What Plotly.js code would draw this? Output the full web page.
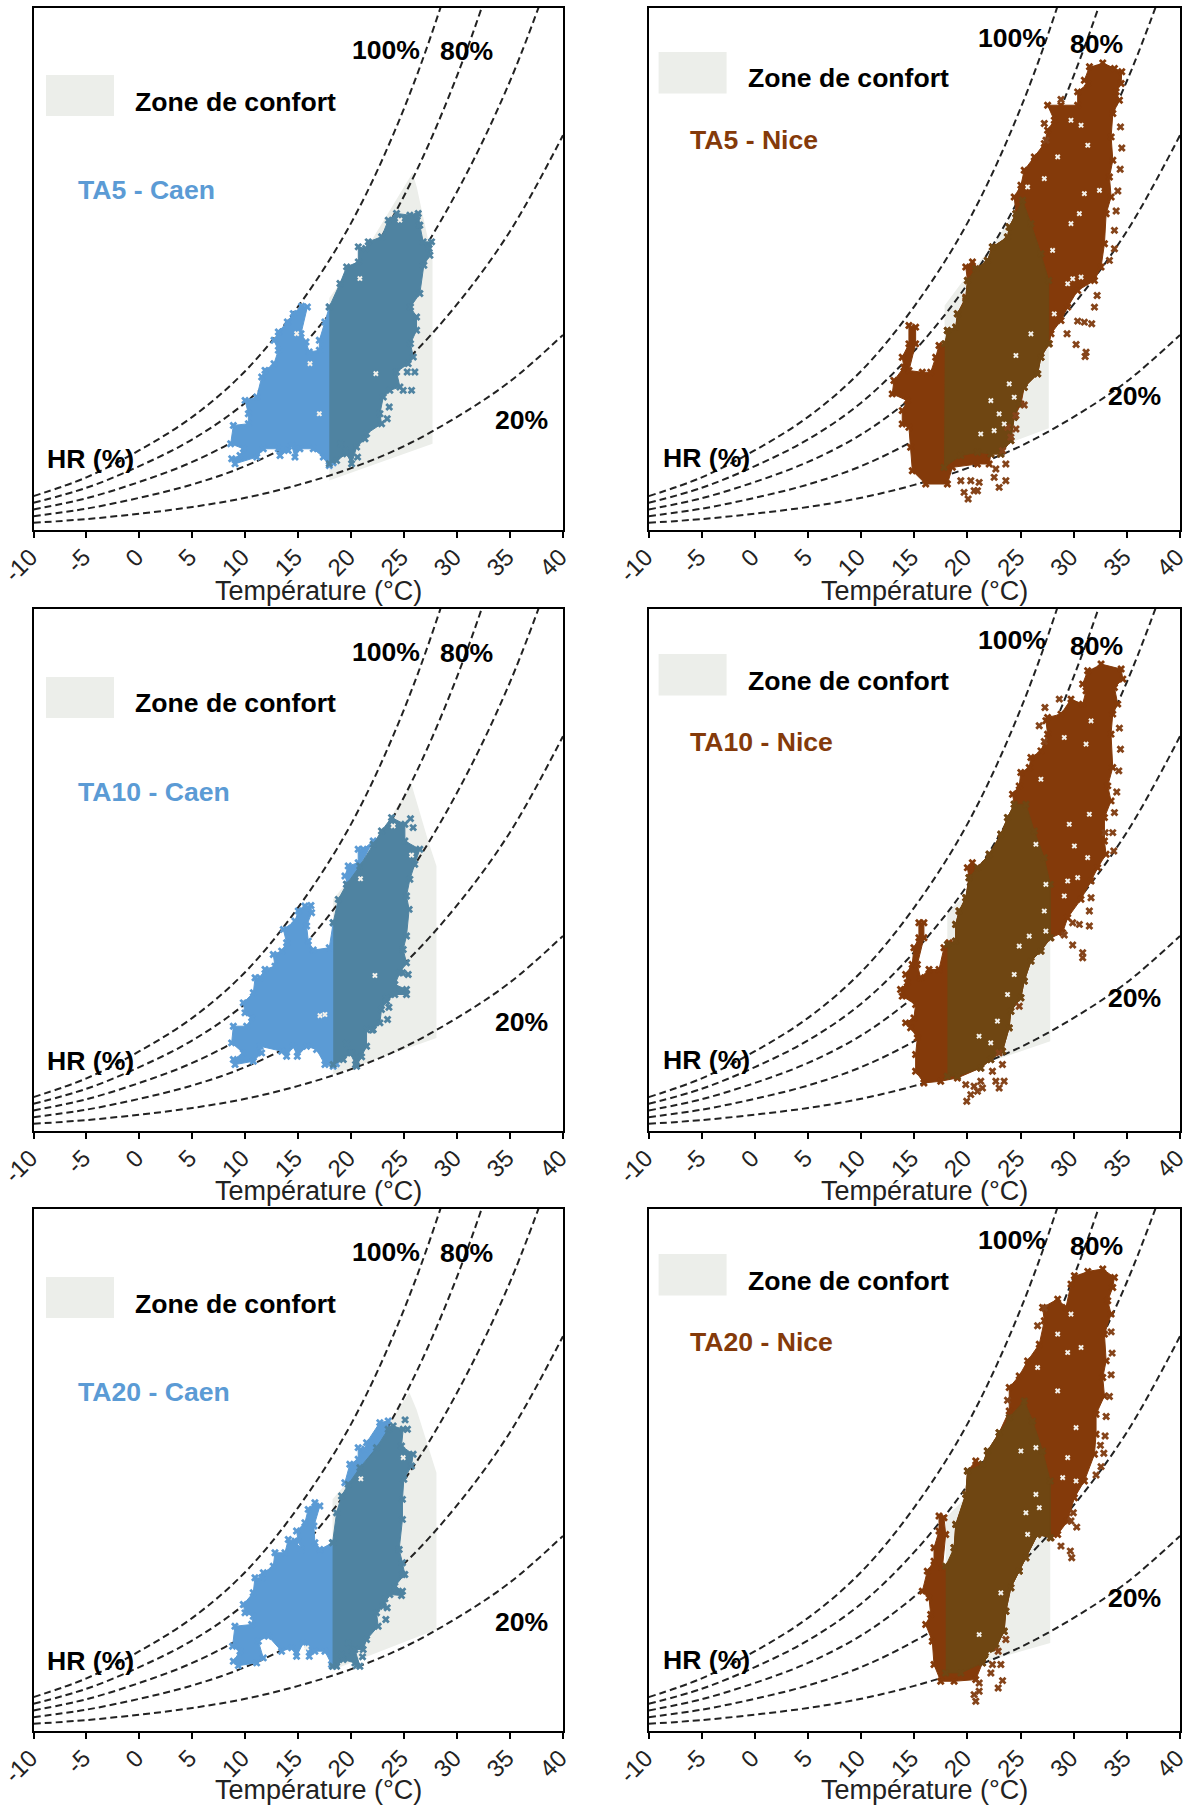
<!DOCTYPE html>
<html><head><meta charset="utf-8">
<script src="https://cdn.plot.ly/plotly-3.0.1.min.js"></script>
<style>html,body{margin:0;padding:0;background:#fff}#c{width:1188px;height:1809px}</style>
</head><body><div id="c"></div>
<script>
// Temperature ticks and humidity-ratio curves (g/kg)
const tempTicks = [-10,-5,0,5,10,15,20,25,30,35,40];
const hr100 = [1.6,2.5,3.8,5.4,7.6,10.7,14.7,20.2,27.5,36.6,48.8];
const hr80  = [1.28,2.0,3.04,4.32,6.08,8.56,11.76,16.0,21.76,29.3,39.0];
const hr60  = [0.96,1.5,2.28,3.24,4.56,6.42,8.82,12.0,16.2,21.5,28.3];
const hr40  = [0.64,1.0,1.52,2.16,3.04,4.28,5.88,8.0,10.8,14.3,18.9];
const hr20  = [0.32,0.5,0.76,1.08,1.52,2.14,2.94,4.0,5.4,7.1,9.33];

// Comfort zones [T, w]
const zoneCaen5 = [[17.93,2.35],[27.68,4.11],[27.68,12.9],[26.2,16.4],[25.8,17.1],[21.85,13.8],[17.93,11.1]];
const zoneNice5 = [[17.8,3.0],[27.65,4.85],[27.65,11.95],[25.18,15.78],[22.2,13.5],[19.37,11.78],[17.85,10.74]];
const zoneCaen10 = [[18.3,2.68],[28.05,4.44],[28.05,12.68],[27.27,13.88],[26.48,15.24],[25.69,16.6],[20.82,12.68],[18.3,11.08]];
const zoneNice10 = [[18.1,2.6],[27.79,4.28],[27.79,11.8],[25.5,15.64],[19.52,11.16],[18.1,10.44]];
const zoneCaen20 = [[18.24,2.9],[28.05,4.84],[28.05,12.36],[26.16,15.4],[25.49,16.2],[20.82,12.6],[18.24,11.08]];
const zoneNice20 = [[17.95,2.76],[27.79,4.2],[27.79,11.96],[25.34,15.8],[19.37,10.92],[17.95,10.2]];

// TA5 - Caen
const caen5Light = [[18.3,10.67],[17.93,10.67],[17.52,9.95],[16.99,9.07],[16.99,8.59],[16.04,8.51],[15.73,8.99],[15.26,9.39],[15.86,10.67],[15.32,10.70],[14.53,10.35],[13.97,9.95],[13.12,9.47],[12.71,9.07],[13.12,8.59],[12.71,7.95],[11.86,7.63],[11.55,7.31],[11.08,6.35],[9.98,6.19],[10.29,5.55],[10.29,5.07],[8.87,4.99],[8.62,4.11],[9.82,3.87],[9.50,3.55],[8.72,3.39],[9.03,3.15],[11.08,3.47],[11.70,3.87],[13.12,3.87],[13.28,3.55],[14.06,3.79],[14.38,4.03],[14.69,3.47],[15.16,3.87],[16.42,3.87],[17.37,3.47],[17.93,3.07],[18.3,3.2]];
const caen5Dark = [[17.93,10.67],[18.94,11.79],[19.57,12.59],[20.67,12.83],[20.67,13.55],[21.36,13.47],[21.61,13.79],[22.87,14.03],[23.50,14.83],[24.28,15.15],[25.54,15.07],[26.33,15.15],[26.48,14.59],[26.80,13.79],[27.59,13.79],[27.43,13.15],[26.86,12.67],[26.48,11.31],[25.60,10.67],[26.17,10.19],[26.17,9.55],[25.60,8.91],[25.86,8.27],[25.38,7.95],[24.28,7.55],[24.60,6.83],[23.65,6.67],[23.03,6.35],[22.71,5.55],[22.87,5.07],[21.45,4.59],[21.30,4.35],[20.51,3.95],[20.04,3.15],[19.57,3.63],[18.62,3.31],[17.93,3.15]];
const caen5Out = [[26.23,15.02],[26.42,14.59],[27.36,13.47],[26.01,7.55],[25.29,7.55],[25.70,6.67],[24.91,6.67],[23.59,5.87],[23.40,5.31],[20.60,3.47],[19.47,3.79],[19.0,4.11]];
const caen5Holes = [[20.82,12.03],[14.85,9.39],[16.99,5.55],[22.33,7.47],[24.60,14.83],[16.11,7.95]];

// TA5 - Nice
const nice5Light = [[32.73,22.37],[33.83,22.10],[34.52,21.94],[34.46,21.38],[33.99,20.98],[34.30,20.58],[33.68,19.94],[33.52,18.82],[33.68,17.70],[33.36,16.90],[33.52,15.94],[33.05,15.14],[32.89,13.70],[32.57,12.58],[31.95,11.94],[30.37,11.46],[29.43,10.66],[28.80,10.02],[27.86,9.38],[27.70,8.90],[26.91,8.26],[26.60,7.46],[25.34,6.82],[25.03,6.02],[24.40,5.38],[24.08,4.26],[23.14,3.62],[22.20,3.62],[22.04,3.14],[20.94,3.14],[18.58,2.98],[18.11,2.18],[16.07,2.18],[14.81,2.82],[14.65,3.94],[14.49,4.90],[13.86,5.06],[13.86,5.70],[14.34,6.18],[12.92,6.50],[13.08,7.14],[14.02,7.78],[13.86,8.26],[14.49,8.90],[14.49,9.78],[15.12,9.70],[15.12,8.90],[14.49,7.62],[15.75,7.54],[16.54,7.54],[17.01,8.26],[17.32,8.82],[17.95,8.90],[18.11,9.54],[18.90,9.70],[19.05,10.34],[19.84,11.14],[20.0,11.94],[19.84,12.58],[20.47,12.82],[20.94,12.50],[21.88,12.90],[22.35,13.54],[23.77,14.02],[23.93,14.50],[24.56,15.14],[24.40,15.94],[25.03,16.50],[25.34,17.22],[26.29,17.86],[27.23,18.50],[27.54,19.14],[28.17,19.62],[27.54,20.34],[28.80,20.34],[30.37,20.34],[30.37,20.98],[31.32,21.38],[31.0,21.54],[31.48,22.18]];
const nice5Dark = [[17.86,8.90],[18.11,9.54],[18.90,9.70],[19.05,10.34],[19.84,11.06],[20.0,11.94],[20.78,12.50],[21.88,12.90],[22.35,13.54],[23.77,14.02],[23.93,14.50],[24.56,15.14],[25.18,15.78],[25.97,14.66],[26.91,13.22],[27.64,11.94],[27.64,8.90],[26.91,8.26],[26.60,7.46],[25.34,6.82],[24.87,6.02],[24.40,5.38],[24.08,4.26],[23.14,3.62],[22.20,3.62],[20.94,3.70],[19.37,3.54],[17.79,2.98]];
const nice5Out = [[28.80,20.61],[27.23,19.46],[27.39,18.66],[34.40,19.30],[34.52,18.29],[34.37,17.27],[34.15,16.23],[33.99,15.27],[33.83,14.34],[33.83,13.46],[33.36,12.90],[32.20,11.22],[31.95,10.66],[31.69,9.86],[31.0,9.94],[30.37,9.99],[29.37,9.38],[30.22,8.87],[31.16,8.50],[31.07,8.29],[25.34,5.97],[24.56,5.46],[24.56,4.82],[23.77,4.90],[24.08,4.42],[23.30,3.78],[23.61,3.14],[22.67,2.90],[22.51,2.50],[22.98,2.02],[23.61,2.34],[21.10,2.26],[20.63,1.86],[20.06,1.46],[19.68,1.78],[20.31,2.34],[19.37,2.34],[20.94,1.86]];
const nice5Holes = [[27.23,16.82],[30.69,19.38],[31.32,18.42],[31.0,16.10],[32.42,16.26],[30.53,15.14],[29.74,14.66],[28.01,13.38],[29.90,12.02],[30.69,12.10],[28.17,10.34],[29.43,11.78],[25.97,9.38],[24.56,8.34],[23.93,6.98],[22.20,6.18],[21.25,4.58],[22.51,4.74],[23.46,5.06],[24.40,6.34],[22.98,5.54],[28.49,17.86],[29.74,19.62],[25.66,16.42]];

// TA10 - Caen
const caen10Light = [[18.6,9.96],[18.30,9.96],[17.93,8.76],[16.42,8.65],[15.95,9.08],[15.79,9.80],[16.26,10.44],[16.20,10.79],[15.63,10.76],[15.0,10.52],[14.69,10.04],[13.59,9.64],[13.90,9.0],[13.43,8.60],[12.64,8.44],[12.80,7.88],[11.86,7.72],[11.39,7.32],[10.92,7.32],[10.76,6.60],[9.81,6.12],[9.97,5.64],[10.60,5.40],[10.13,5.0],[8.87,5.0],[8.71,4.20],[9.81,3.72],[8.87,3.40],[9.03,3.16],[10.76,3.32],[11.54,3.72],[11.39,4.04],[13.43,3.80],[13.90,3.56],[14.53,4.04],[14.91,3.56],[15.79,4.04],[16.73,3.88],[17.52,3.16],[18.30,3.08],[18.6,3.2],[null,null],[19.41,12.20],[19.72,12.68],[20.66,12.84],[20.66,13.48],[21.14,13.48],[22.08,13.88],[20.82,12.68],[19.56,11.80]];
const caen10Dark = [[18.30,9.96],[18.78,11.08],[19.56,11.80],[20.82,12.68],[22.08,13.72],[22.86,14.36],[23.81,15.0],[25.07,14.68],[25.07,13.88],[26.48,13.48],[26.0,12.76],[25.54,12.04],[25.22,11.24],[25.47,10.60],[25.22,9.32],[24.91,8.68],[25.22,8.04],[24.59,7.56],[24.12,7.0],[25.22,6.76],[25.22,6.52],[24.12,6.52],[23.34,6.20],[22.86,5.80],[22.71,5.16],[22.08,4.84],[21.45,4.84],[21.45,4.04],[20.51,3.08],[19.88,3.72],[19.25,3.40],[18.30,3.16]];
const caen10Out = [[25.60,14.95],[25.85,14.52],[25.38,7.48],[24.85,7.56],[23.34,6.36],[23.56,5.91],[23.43,5.32],[19.56,4.17],[20.98,3.53],[20.03,3.72],[20.41,3.16],[21.98,4.81]];
const caen10Holes = [[20.88,12.07],[22.24,7.43],[17.05,5.51],[17.52,5.56],[23.97,14.6],[25.70,13.2]];

// TA10 - Nice
const nice10Light = [[32.57,22.36],[34.46,22.12],[34.62,21.64],[33.83,21.24],[34.14,20.44],[33.67,19.96],[33.51,19.0],[33.67,17.40],[33.20,16.52],[33.51,15.80],[32.89,15.0],[32.89,13.88],[33.04,13.24],[32.26,12.60],[31.63,11.96],[30.68,11.08],[29.43,10.20],[28.95,9.48],[27.85,9.24],[26.91,8.60],[25.97,8.12],[25.34,7.16],[25.02,6.36],[24.08,5.72],[23.92,4.92],[23.29,3.80],[22.19,3.40],[21.25,3.0],[19.05,2.52],[17.48,2.36],[15.90,2.28],[15.12,2.84],[15.12,3.64],[15.28,4.44],[14.65,4.92],[14.18,5.16],[14.96,5.40],[15.12,6.04],[13.86,6.44],[13.70,6.76],[14.33,7.08],[14.18,7.48],[14.80,7.96],[14.96,8.76],[15.43,9.24],[15.43,9.96],[15.90,9.96],[15.90,9.24],[15.28,7.96],[15.59,7.32],[16.38,7.72],[17.32,7.72],[17.79,8.76],[18.26,9.0],[18.89,9.08],[18.89,9.88],[19.21,10.52],[19.84,11.16],[20.15,12.12],[19.99,12.60],[20.46,12.84],[20.94,12.60],[22.04,13.24],[23.14,14.20],[23.77,15.0],[24.40,15.64],[24.24,16.12],[24.87,16.52],[25.02,17.16],[25.81,17.40],[25.97,17.88],[26.91,18.20],[27.54,19.0],[27.38,19.64],[27.54,19.80],[28.80,19.96],[29.74,20.68],[30.84,20.44],[31.16,21.08],[30.84,21.40],[31.31,22.04]];
const nice10Dark = [[18.11,8.92],[18.89,9.08],[18.89,9.88],[19.21,10.52],[19.84,11.16],[20.15,12.12],[20.94,12.60],[22.04,13.24],[23.14,14.20],[23.77,15.0],[24.40,15.64],[25.50,15.64],[26.28,14.36],[27.22,13.08],[27.79,11.80],[27.79,9.24],[26.91,8.60],[25.97,8.12],[25.34,7.16],[25.02,6.36],[24.08,5.72],[23.92,4.92],[23.29,3.80],[22.19,3.40],[21.25,3.0],[19.05,2.60],[18.11,2.60]];
const nice10Out = [[26.75,19.40],[27.29,20.28],[28.64,20.68],[27.23,18.65],[34.30,19.29],[34.40,18.28],[34.24,17.24],[34.05,16.23],[33.83,15.24],[33.67,14.28],[32.95,14.28],[33.77,13.40],[31.63,11.16],[31.47,10.52],[31.47,9.80],[30.53,9.88],[29.90,9.96],[29.11,9.37],[29.90,8.89],[30.84,8.52],[30.84,8.28],[24.87,5.96],[22.98,3.72],[23.29,3.16],[22.35,2.84],[22.67,2.36],[22.98,2.04],[23.45,2.36],[21.25,2.36],[20.94,1.88],[20.31,1.72],[19.93,1.40],[20.62,2.12],[19.84,2.20],[21.41,2.04]];
const nice10Holes = [[26.91,16.84],[29.11,18.84],[31.16,18.52],[31.63,19.64],[31.47,15.16],[29.58,14.68],[30.06,13.64],[31.31,13.08],[29.43,11.96],[30.37,12.12],[29.11,11.24],[27.38,11.80],[26.44,13.72],[27.23,10.52],[27.38,9.56],[25.81,9.32],[23.77,6.52],[22.82,5.24],[22.19,4.20],[21.09,4.52],[24.87,8.84],[24.40,7.48]];

// TA20 - Caen
const caen20Light = [[18.55,9.0],[18.24,9.0],[17.04,8.68],[16.57,9.0],[16.48,9.80],[17.04,10.76],[16.57,10.92],[15.94,10.60],[15.63,9.96],[14.84,9.56],[15.0,9.08],[15.31,8.68],[14.69,9.08],[14.06,9.16],[13.74,8.52],[12.80,8.52],[12.64,7.88],[11.70,7.56],[11.54,7.32],[10.91,7.32],[10.75,6.60],[9.81,6.04],[9.97,5.64],[10.75,5.48],[10.60,5.08],[9.02,5.0],[8.80,4.04],[9.50,3.80],[8.87,3.32],[9.34,3.11],[11.07,3.24],[11.70,3.48],[11.23,4.28],[12.17,4.52],[13.43,3.80],[14.37,3.96],[14.84,3.56],[15.47,4.20],[16.04,3.56],[16.57,3.80],[17.52,3.80],[18.14,3.16],[18.24,3.08],[18.55,3.2],[null,null],[19.40,11.88],[19.87,12.76],[20.66,13.0],[20.66,13.56],[21.29,13.48],[21.45,13.80],[22.70,14.76],[23.49,14.84],[23.49,14.44],[22.39,13.56],[20.82,12.60],[19.72,11.80]];
const caen20Dark = [[18.24,9.0],[18.62,10.44],[19.09,11.24],[19.72,11.80],[20.82,12.60],[22.39,13.56],[23.49,14.44],[23.96,14.60],[24.91,14.44],[24.75,13.64],[25.85,13.24],[25.69,12.68],[24.97,12.04],[24.84,11.08],[24.84,10.12],[24.53,8.68],[24.84,8.04],[25.06,7.48],[24.12,6.92],[24.84,6.68],[24.75,6.47],[23.65,6.52],[23.02,5.96],[22.39,5.64],[22.55,5.0],[21.45,4.36],[21.13,3.88],[20.35,3.88],[20.82,3.08],[20.35,3.24],[19.24,3.40],[18.62,3.08],[18.24,3.08]];
const caen20Out = [[25.09,14.89],[25.31,14.44],[24.84,7.48],[23.18,6.31],[23.40,5.88],[23.27,5.32],[19.72,4.20],[20.13,3.80],[21.07,3.53],[20.50,3.11],[19.09,3.64]];
const caen20Holes = [[20.91,12.07],[24.91,13.08],[15.79,3.96]];

// TA20 - Nice
const nice20Light = [[31.32,22.01],[32.73,22.12],[33.83,21.72],[33.67,21.24],[33.20,20.60],[33.52,19.96],[32.89,19.0],[33.05,17.72],[32.73,16.92],[32.89,16.04],[32.10,15.16],[32.10,14.20],[31.95,13.24],[31.0,11.96],[30.06,11.16],[29.43,10.04],[28.49,9.40],[27.86,9.24],[26.60,9.40],[25.50,8.28],[24.87,7.64],[24.08,6.84],[23.61,5.72],[23.45,4.76],[22.67,3.96],[21.41,3.24],[20.78,2.44],[18.74,2.36],[17.48,2.36],[16.85,3.16],[16.69,4.28],[16.07,5.08],[16.54,5.56],[16.38,6.36],[15.75,6.68],[16.22,7.64],[16.85,8.12],[16.85,8.76],[17.32,9.56],[17.32,10.28],[17.79,10.20],[17.95,9.40],[17.64,7.80],[18.27,7.88],[18.74,8.76],[18.90,9.88],[19.84,11.32],[20.0,12.44],[20.78,12.92],[21.41,12.76],[21.88,13.40],[22.98,14.28],[23.93,15.32],[23.93,16.44],[24.87,17.0],[25.66,17.72],[26.76,18.52],[27.23,19.64],[27.07,20.28],[28.49,20.68],[29.27,20.28],[29.74,21.40],[30.06,21.80]];
const nice20Dark = [[17.95,7.88],[18.74,8.76],[18.90,9.88],[19.84,11.32],[20.0,12.44],[21.41,12.76],[21.88,13.40],[22.98,14.28],[23.93,15.0],[25.34,15.80],[26.13,14.84],[27.07,13.40],[27.79,11.96],[27.79,9.24],[26.60,9.40],[25.50,8.28],[24.87,7.64],[24.08,6.84],[23.61,5.72],[23.45,4.76],[22.67,3.96],[21.41,3.24],[19.37,2.76],[17.95,2.76]];
const nice20Out = [[27.23,20.25],[26.60,19.40],[23.77,15.83],[33.52,19.11],[33.61,18.09],[33.52,17.05],[33.36,16.01],[33.05,15.05],[32.95,14.12],[32.51,13.67],[32.83,13.29],[32.57,12.65],[32.10,12.25],[30.28,9.75],[29.96,10.44],[29.74,10.04],[28.80,8.84],[29.68,8.60],[29.81,8.28],[23.14,3.16],[22.35,3.16],[23.30,2.39],[22.89,2.04],[21.10,2.28],[21.10,1.88],[20.78,1.40],[20.62,1.72],[22.20,2.76],[23.61,4.36],[22.89,3.80]];
const nice20Holes = [[30.69,18.36],[29.74,19.96],[28.49,19.0],[29.43,18.12],[26.60,17.40],[28.49,16.28],[30.22,14.52],[25.03,13.40],[26.44,13.56],[28.96,12.12],[30.22,11.96],[29.43,13.08],[25.50,10.44],[26.76,10.68],[26.44,11.32],[25.66,9.40],[23.14,6.60],[21.10,4.60],[22.20,3.64]];

// Panel labels
const labelCaen = ['TA5 - Caen','TA10 - Caen','TA20 - Caen'];
const labelNice = ['TA5 - Nice','TA10 - Nice','TA20 - Nice'];

const W = 1188, H = 1809;
const BLUE = '#5B9BD5', BLUE_D = '#4F83A1', BROWN = '#843A0A', BROWN_D = '#6F4612', ZONE = '#ECEEEA';
const xs = a => a.map(p => p[0]);
const ys = a => a.map(p => p[1]);

const rowTop = [8, 609, 1209];
const rowDy = [0, 602, 1202];
const panels = [
 {col:0,row:0,zone:zoneCaen5,light:caen5Light,dark:caen5Dark,out:caen5Out,holes:caen5Holes,c:BLUE,d:BLUE_D,m:'#4F83A1',label:labelCaen[0]},
 {col:1,row:0,zone:zoneNice5,light:nice5Light,dark:nice5Dark,out:nice5Out,holes:nice5Holes,c:BROWN,d:BROWN_D,m:'#85441A',label:labelNice[0]},
 {col:0,row:1,zone:zoneCaen10,light:caen10Light,dark:caen10Dark,out:caen10Out,holes:caen10Holes,c:BLUE,d:BLUE_D,m:'#4F83A1',label:labelCaen[1]},
 {col:1,row:1,zone:zoneNice10,light:nice10Light,dark:nice10Dark,out:nice10Out,holes:nice10Holes,c:BROWN,d:BROWN_D,m:'#85441A',label:labelNice[1]},
 {col:0,row:2,zone:zoneCaen20,light:caen20Light,dark:caen20Dark,out:caen20Out,holes:caen20Holes,c:BLUE,d:BLUE_D,m:'#4F83A1',label:labelCaen[2]},
 {col:1,row:2,zone:zoneNice20,light:nice20Light,dark:nice20Dark,out:nice20Out,holes:nice20Holes,c:BROWN,d:BROWN_D,m:'#85441A',label:labelNice[2]}
];

const colX = [[33.5,563],[648.7,1180]];
const traces = [], annotations = [], shapes = [];
const layout = {width:W,height:H,margin:{l:0,r:0,t:0,b:0},paper_bgcolor:'#fff',plot_bgcolor:'#fff',showlegend:false,font:{family:'Liberation Sans, Arial, sans-serif',color:'#000'}};

const note = (x,y,text,size,bold,color,anchor) => annotations.push({
  xref:'paper',yref:'paper',x:x/W,y:1-y/H,xanchor:anchor,yanchor:'middle',showarrow:false,
  text:bold?'<b>'+text+'</b>':text,font:{family:'Liberation Sans, Arial, sans-serif',size:size,color:color||'#000'}});

const BOLD = 26.6, TITLE = 27;
panels.forEach((p,i) => {
  const n = i+1, xa = 'x'+(n===1?'':n), ya = 'y'+(n===1?'':n);
  const top = rowTop[p.row], bot = top+521.5, dy = rowDy[p.row];
  layout['xaxis'+(n===1?'':n)] = {domain:[colX[p.col][0]/W,colX[p.col][1]/W],range:[-10,40],anchor:ya,
    tickvals:tempTicks,ticktext:tempTicks.map(String),ticks:'outside',ticklen:6,tickwidth:2,tickcolor:'#000',
    tickangle:-45,tickfont:{size:24,color:'#222'},ticklabelstandoff:-4,ticklabelshift:-3,ticklabeloverflow:'allow',
    showgrid:false,zeroline:false,showline:true,linewidth:2,linecolor:'#000',mirror:true};
  layout['yaxis'+(n===1?'':n)] = {domain:[1-bot/H,1-top/H],range:[0,25],anchor:xa,
    showticklabels:false,ticks:'',showgrid:false,zeroline:false,showline:true,linewidth:2,linecolor:'#000',mirror:true};

  const base = {xaxis:xa,yaxis:ya,hoverinfo:'skip',type:'scatter'};
  traces.push({...base,x:xs(p.zone),y:ys(p.zone),mode:'lines',fill:'toself',fillcolor:ZONE,line:{width:0,color:ZONE}});
  [hr100,hr80,hr60,hr40,hr20].forEach(c => traces.push({...base,x:tempTicks,y:c,mode:'lines',
    line:{color:'#222',width:2,dash:'7px,4px',shape:'spline'}}));
  traces.push({...base,x:xs(p.light),y:ys(p.light),mode:'lines+markers',fill:'toself',fillcolor:p.c,
    line:{color:p.c,width:1},marker:{symbol:'x',size:7,color:p.c,line:{width:0}}});
  traces.push({...base,x:xs(p.dark),y:ys(p.dark),mode:'lines+markers',fill:'toself',fillcolor:p.d,
    line:{color:p.d,width:1},marker:{symbol:'x',size:7,color:p.d,line:{width:0}}});
  traces.push({...base,x:xs(p.out),y:ys(p.out),mode:'markers',marker:{symbol:'x',size:7,color:p.m,line:{width:0}}});
  traces.push({...base,x:xs(p.holes),y:ys(p.holes),mode:'markers',marker:{symbol:'x',size:5,color:'#F4F2EC',line:{width:0}}});

  if (p.col===0) {
    shapes.push({type:'rect',xref:'paper',yref:'paper',x0:46/W,x1:114/W,y0:1-(116+dy)/H,y1:1-(75+dy)/H,fillcolor:ZONE,line:{width:0}});
    note(386,50+dy,'100%',BOLD,true,'#000','center');
    note(466,51+dy,'80%',BOLD,true,'#000','center');
    note(132.5,101.5+dy,'Zone de confort',BOLD,true,'#000','left');
    note(76,190+dy,p.label,BOLD,true,BLUE,'left');
    note(521,420+dy,'20%',BOLD,true,'#000','center');
    note(44.5,459+dy,'HR (%)',BOLD,true,'#000','left');
    note(318,590.5+dy*0.9983,'Température (°C)',TITLE,false,'#222','center');
  } else {
    shapes.push({type:'rect',xref:'paper',yref:'paper',x0:658.6/W,x1:726.6/W,y0:1-(93.4+dy)/H,y1:1-(52+dy)/H,fillcolor:ZONE,line:{width:0}});
    note(1011.5,38+dy,'100%',BOLD,true,'#000','center');
    note(1096,44+dy,'80%',BOLD,true,'#000','center');
    note(746,78.5+dy,'Zone de confort',BOLD,true,'#000','left');
    note(687.5,139.5+dy,p.label,BOLD,true,BROWN,'left');
    note(1134,395.6+dy,'20%',BOLD,true,'#000','center');
    note(660.5,458+dy,'HR (%)',BOLD,true,'#000','left');
    note(924,590.5+dy*0.9983,'Température (°C)',TITLE,false,'#222','center');
  }
});
layout.annotations = annotations;
layout.shapes = shapes;
Plotly.newPlot('c',traces,layout,{staticPlot:true,displayModeBar:false});
</script></body></html>
